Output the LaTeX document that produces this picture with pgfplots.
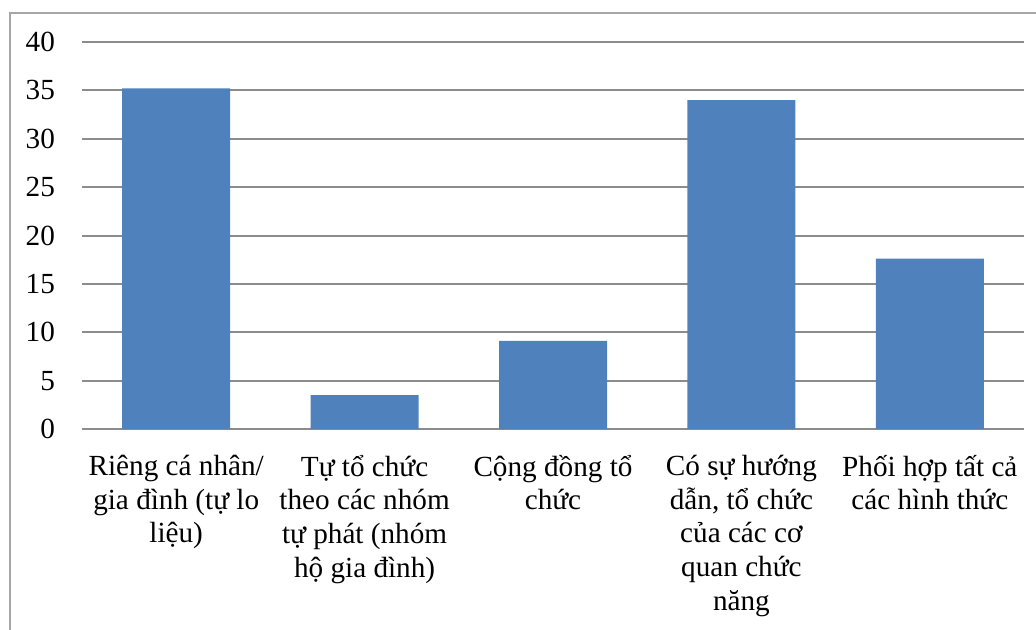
\documentclass[border=0pt]{standalone}
\usepackage{pgfplots}
\pgfplotsset{compat=1.18}
\usepackage{fontspec}
\setmainfont{Liberation Serif}
\definecolor{barblue}{HTML}{4F81BD}
\definecolor{gridgray}{HTML}{8C8C8C}
\definecolor{framegray}{HTML}{A6A6A6}
\begin{document}
\begin{tikzpicture}
\useasboundingbox (0,0) rectangle (518pt,-314.5pt);
% chart frame (extends past the right and bottom edges)
\draw[framegray, line width=0.8pt] (5pt,-6.5pt) rectangle (540pt,-340pt);
\begin{axis}[
  at={(41pt,-214.5pt)}, anchor=south west,
  scale only axis, width=471pt, height=193.5pt,
  ybar, bar width=54pt,
  xmin=-0.5, xmax=4.5, ymin=0, ymax=40,
  ytick={0,5,...,40},
  xtick={0,1,2,3,4},
  xticklabels={
    {Riêng cá nhân/\\gia đình (tự lo\\liệu)},
    {Tự tổ chức\\theo các nhóm\\tự phát (nhóm\\hộ gia đình)},
    {Cộng đồng tổ\\chức},
    {Có sự hướng\\dẫn, tổ chức\\của các cơ\\quan chức\\năng},
    {Phối hợp tất cả\\các hình thức}},
  axis line style={draw=none},
  major tick length=0pt,
  ymajorgrids, grid style={gridgray, line width=1pt},
  tick label style={font=\fontsize{14.6}{16.85}\selectfont},
  xticklabel style={align=center, yshift=-9.5pt},
  yticklabel style={xshift=-10pt},
  /pgf/number format/assume math mode=true,
]
\addplot[fill=barblue, draw=none] coordinates {(0,35.2) (1,3.5) (2,9.1) (3,34.0) (4,17.6)};
\end{axis}
\end{tikzpicture}
\end{document}
